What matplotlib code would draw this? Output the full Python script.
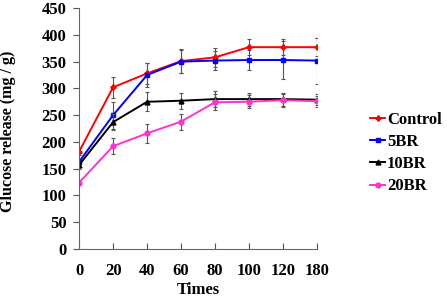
import numpy as np
import matplotlib
matplotlib.use('Agg')
import matplotlib.pyplot as plt

times = ['0', '20', '40', '60', '80', '100', '120', '180']
control = [182, 302, 328, 351, 358, 377, 377, 377]
control_err = [6, 20, 20, 22, 18, 15, 15, 17]
br5 = [163, 250, 325, 350, 352, 353, 353, 352]
br5_err = [5, 25, 22, 22, 18, 18, 35, 43]
br10 = [157, 237, 275, 277, 280, 280, 280, 279]
br10_err = [8, 15, 18, 15, 15, 12, 12, 10]
br20 = [124, 192, 216, 238, 274, 275, 278, 276]
br20_err = [5, 15, 18, 15, 15, 12, 12, 10]

plt.rcParams['font.family'] = ['Liberation Serif', 'DejaVu Serif']
plt.rcParams['font.weight'] = 'bold'

fig = plt.figure(figsize=(4.47, 3.0), dpi=100)
ax = fig.add_axes([0.177, 0.17, 0.532, 0.803])

x = np.arange(len(times))
series = [
    ('Control', control, control_err, 'red', 'P'),
    ('5BR', br5, br5_err, 'blue', 's'),
    ('10BR', br10, br10_err, 'black', '^'),
    ('20BR', br20, br20_err, '#ff33cc', 'o'),
]
for name, vals, err, col, mk in series:
    # barras de error grises, la linea va aparte para que la leyenda quede limpia
    ax.errorbar(x, vals, yerr=err, fmt='none', ecolor='#555555', elinewidth=0.8,
                capsize=1.5, capthick=0.8)
    ax.plot(x, vals, color=col, marker=mk, markersize=3.5, linewidth=1.4, label=name)

ax.set_xlim(0, 7)
ax.set_ylim(0, 450)
ax.set_xticks(x)
ax.set_xticklabels(times)
ax.set_yticks(np.arange(0, 451, 50))
ax.tick_params(axis='x', direction='in', length=4, pad=10, labelsize=12, color='#555555')
ax.tick_params(axis='y', direction='out', length=4, pad=5, labelsize=12, color='#555555')
for s in ['top', 'right']:
    ax.spines[s].set_visible(False)
for s in ['left', 'bottom']:
    ax.spines[s].set_color('#666666')
for lab in ax.get_xticklabels() + ax.get_yticklabels():
    lab.set_fontweight('bold')

ax.set_xlabel('Times', fontsize=12, fontweight='bold')
ax.set_ylabel('Glucose release (mg / g)', fontsize=11.5, fontweight='bold')
ax.yaxis.set_label_coords(-0.265, 0.49)
ax.xaxis.set_label_coords(0.5, -0.135)

leg = fig.legend(loc='center left', bbox_to_anchor=(0.828, 0.49), frameon=False,
                 handlelength=0.9, handletextpad=0.1, labelspacing=0.38,
                 borderaxespad=0, borderpad=0,
                 prop={'size': 12, 'weight': 'bold'})

fig.savefig('out.png', dpi=100)
